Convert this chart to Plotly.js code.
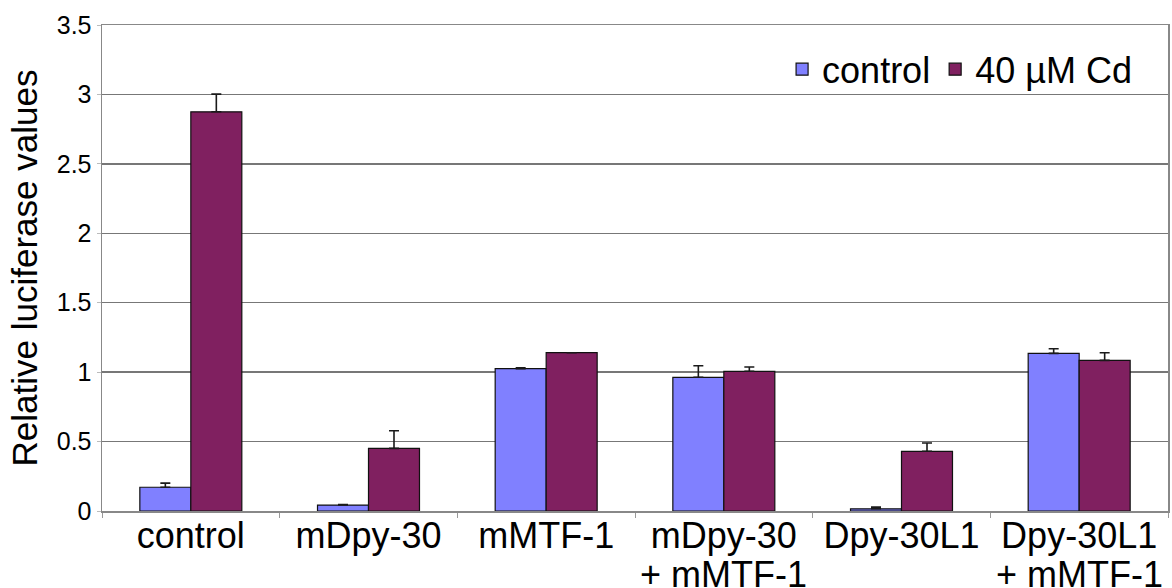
<!DOCTYPE html>
<html>
<head>
<meta charset="utf-8">
<script src="https://cdn.plot.ly/plotly-3.0.1.min.js"></script>
<style>html,body{margin:0;padding:0;background:#fff;}#chart{width:1172px;height:588px;}</style>
</head>
<body>
<div id="chart"></div>
<script>
var labelLine1 = ["control", "mDpy-30", "mMTF-1", "mDpy-30", "Dpy-30L1", "Dpy-30L1"];
var labelLine2 = ["", "", "", "+ mMTF-1", "", "+ mMTF-1"];
var controlValues = [0.171, 0.043, 1.025, 0.963, 0.016, 1.135];
var controlErrors = [0.030, 0.004, 0.006, 0.083, 0.012, 0.033];
var cdValues = [2.875, 0.451, 1.140, 1.006, 0.430, 1.085];
var cdErrors = [0.127, 0.127, 0.000, 0.031, 0.060, 0.055];
var seriesNames = ["control", "40 µM Cd"];
var yTicks = [0, 0.5, 1, 1.5, 2, 2.5, 3, 3.5];
var yTickLabels = ["0", "0.5", "1", "1.5", "2", "2.5", "3", "3.5"];

var categories = labelLine1.map(function(a, i){ return labelLine2[i] ? a + " " + labelLine2[i] : a; });

var font = "Liberation Sans, Arial, sans-serif";
var errStyle = {type: "data", symmetric: false, color: "#1a1a1a", thickness: 1.6, width: 5};

var traces = [
  {
    type: "bar", name: seriesNames[0], x: categories, y: controlValues,
    marker: {color: "#8080FF", line: {color: "#111", width: 1.2}},
    error_y: Object.assign({array: controlErrors, arrayminus: controlErrors.map(function(){return 0;})}, errStyle)
  },
  {
    type: "bar", name: seriesNames[1], x: categories, y: cdValues,
    marker: {color: "#802060", line: {color: "#111", width: 1.2}},
    error_y: Object.assign({array: cdErrors, arrayminus: cdErrors.map(function(){return 0;})}, errStyle)
  }
];

var annotations = [];
categories.forEach(function(c, i){
  if (labelLine2[i]) {
    annotations.push({
      x: c, xref: "x", y: -0.131, yref: "paper", yanchor: "middle", xanchor: "center",
      text: labelLine2[i], showarrow: false,
      font: {family: font, size: 36, color: "#000"}
    });
  }
});

var layout = {
  width: 1172, height: 588,
  margin: {l: 102, r: 4, t: 25, b: 77},
  paper_bgcolor: "#fff", plot_bgcolor: "#fff",
  barmode: "group", bargap: 0.426, bargroupgap: 0,
  font: {family: font, color: "#000"},
  showlegend: true,
  legend: {
    orientation: "h", x: 0.971, xanchor: "right", y: 0.909, yanchor: "middle",
    font: {family: font, size: 36, color: "#000"}, bgcolor: "rgba(0,0,0,0)",
    itemclick: false, tracegroupgap: 0, traceorder: "normal"
  },
  annotations: annotations,
  xaxis: {
    type: "category", tickson: "boundaries", ticks: "outside", ticklen: 5, tickcolor: "#999",
    tickvals: categories, ticktext: labelLine1, ticklabelstandoff: -8,
    showline: true, linecolor: "#888", linewidth: 1.5, mirror: true,
    showgrid: false, tickfont: {family: font, size: 36, color: "#000"}, fixedrange: true
  },
  yaxis: {
    range: [0, 3.5], tickvals: yTicks, ticktext: yTickLabels,
    ticks: "outside", ticklen: 4, tickcolor: "#bbb",
    showline: true, linecolor: "#888", linewidth: 1.5, mirror: true,
    showgrid: true, gridcolor: "#777", gridwidth: 1.3, zeroline: false,
    tickfont: {family: font, size: 25, color: "#000"},
    title: {text: "Relative luciferase values", font: {family: font, size: 35, color: "#000"}, standoff: 8},
    fixedrange: true
  }
};

Plotly.newPlot("chart", traces, layout, {displayModeBar: false, staticPlot: true});
</script>
</body>
</html>
